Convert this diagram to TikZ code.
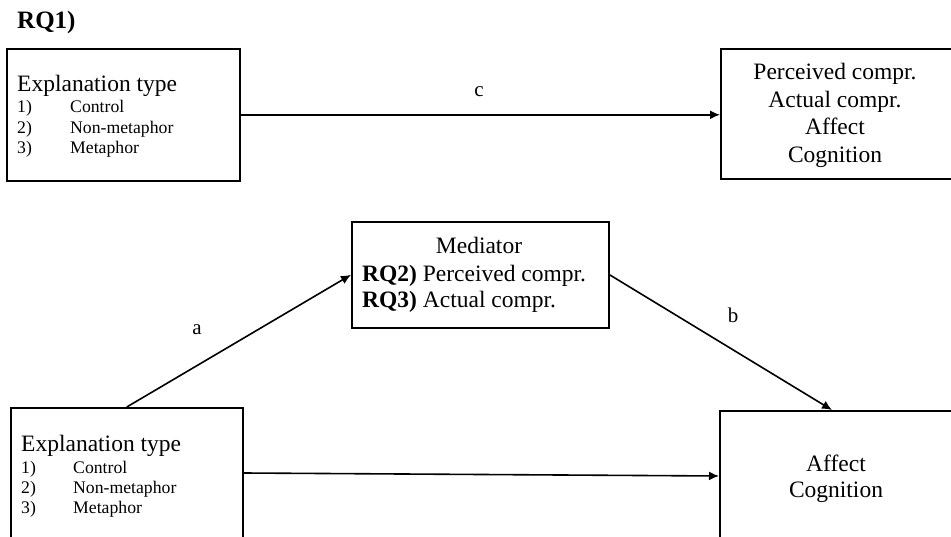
\documentclass[tikz,border=0pt]{standalone}
\usepackage{fontspec}
\setmainfont{Liberation Serif}
\usetikzlibrary{arrows.meta,calc}
\begin{document}
\begin{tikzpicture}[x=1pt,y=-1pt,
  box/.style={draw,line width=1.6pt,rectangle,inner sep=0pt,anchor=north west},
  conn/.style={line width=1.6pt,-{Latex[length=10pt,width=9pt]}},
  big/.style={font=\fontsize{23.5}{28}\selectfont,inner sep=0pt,anchor=base},
  bigl/.style={big,anchor=base west},
  small/.style={font=\fontsize{17.7}{22}\selectfont,inner sep=0pt,anchor=base west},
  lbl/.style={font=\fontsize{21}{24}\selectfont,inner sep=0pt}]
\clip (0,0) rectangle (951,537);
\fill[white] (0,0) rectangle (951,537);
% title
\node[bigl,font=\fontsize{25}{28}\selectfont\bfseries] (rq1) at (17,29) {RQ1)};
% boxes
\node[box,minimum width=233pt,minimum height=132pt] (b1) at (6,48) {};
\node[box,minimum width=245pt,minimum height=130pt] (b2) at (720,48) {};
\node[box,minimum width=257pt,minimum height=106pt] (med) at (351,221) {};
\node[box,minimum width=232pt,minimum height=160pt] (b4) at (10,407) {};
\node[box,minimum width=245pt,minimum height=160pt] (b5) at (719,410) {};
% box 1 text
\node[bigl] (t1) at (17,92) {Explanation type};
\node[small] (n11) at (17,113) {1)};
\node[small] (i11) at (70,113) {Control};
\node[small] (n12) at (17,133.5) {2)};
\node[small] (i12) at (70,133.5) {Non-metaphor};
\node[small] (n13) at (17,154) {3)};
\node[small] (i13) at (70,154) {Metaphor};
% box 2 text
\node[big] (t21) at (835,80) {Perceived compr.};
\node[big] (t22) at (835,107.5) {Actual compr.};
\node[big] (t23) at (835,135) {Affect};
\node[big] (t24) at (835,162.5) {Cognition};
% mediator text
\node[big] (tm) at (479,254) {Mediator};
\node[bigl] (tm2) at (362,282) {\textbf{RQ2)} Perceived compr.};
\node[bigl] (tm3) at (362,308) {\textbf{RQ3)} Actual compr.};
% box 4 text
\node[bigl] (t4) at (21,451) {Explanation type};
\node[small] (n41) at (21,473) {1)};
\node[small] (i41) at (73,473) {Control};
\node[small] (n42) at (21,493) {2)};
\node[small] (i42) at (73,493) {Non-metaphor};
\node[small] (n43) at (21,513.5) {3)};
\node[small] (i43) at (73,513.5) {Metaphor};
% box 5 text
\node[big] (t51) at (836,471) {Affect};
\node[big] (t52) at (836,497.5) {Cognition};
% connector coordinates
\coordinate (b5top) at ($(b5.north west)+(113,0)$);
\coordinate (b4out) at ($(b4.north east)+(0,66)$);
\coordinate (b5in) at ($(b5.north west)+(0,66)$);
% connectors
\draw[conn] (b1.east) -- (b1.east -| b2.west);
\draw[conn] (b4.north) -- (med.west);
\draw[conn] (med.east) -- (b5top);
\draw[conn] (b4out) -- (b5in);
% labels
\node[lbl] (lc) at (479,92) {c};
\node[lbl] (la) at (197,330) {a};
\node[lbl] (lb) at (733,315) {b};
\end{tikzpicture}
\end{document}
